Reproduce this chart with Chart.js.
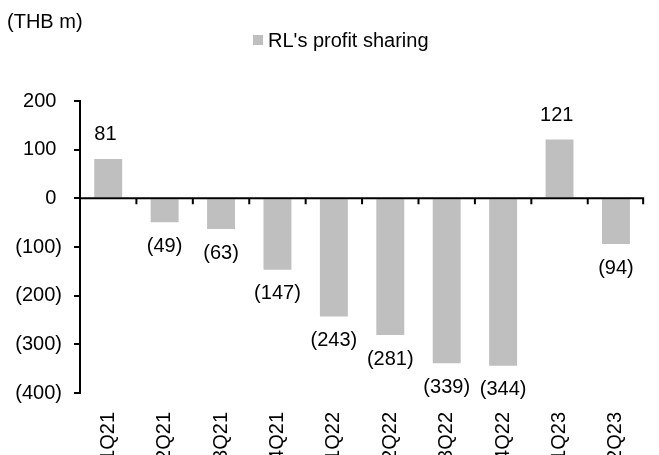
<!DOCTYPE html>
<html>
<head>
<meta charset="utf-8">
<script src="https://cdn.jsdelivr.net/npm/chart.js@4.4.0/dist/chart.umd.min.js"></script>
<style>
  html, body { margin: 0; padding: 0; background: #fff; }
</style>
</head>
<body>
<canvas id="profitChart" width="659" height="455"></canvas>
<script>
// data
const quarters = ['1Q21', '2Q21', '3Q21', '4Q21', '1Q22', '2Q22', '3Q22', '4Q22', '1Q23', '2Q23'];
const profitSharing = [81, -49, -63, -147, -243, -281, -339, -344, 121, -94];
const yTicks = [200, 100, 0, -100, -200, -300, -400];
const seriesName = "RL's profit sharing";
const unitLabel = '(THB m)';

const FONT = "'Liberation Sans', Arial, sans-serif";
const FONT_SIZE = 20;
const BAR_GREY = '#bfbfbf';

// accounting style: negatives in brackets, positives padded like Excel does
function fmt(v) {
    return v < 0 ? '(' + Math.abs(v) + ')' : v + '\u2008';
}

Chart.defaults.font.family = FONT;
Chart.defaults.font.size = FONT_SIZE;
Chart.defaults.color = '#000';

// zero line with category tick marks, plus the value labels
const zeroAxisAndLabels = {
    id: 'zeroAxisAndLabels',
    afterDatasetsDraw(chart) {
        const { ctx, chartArea, scales: { x, y } } = chart;
        const y0 = y.getPixelForValue(0);
        ctx.save();
        ctx.strokeStyle = '#000';
        ctx.lineWidth = 2;
        ctx.beginPath();
        ctx.moveTo(chartArea.left, y0);
        ctx.lineTo(chartArea.right, y0);
        for (let i = 1; i <= quarters.length; i++) {
            const bx = i < quarters.length
                ? (x.getPixelForValue(i - 1) + x.getPixelForValue(i)) / 2
                : chartArea.right - 1;
            ctx.moveTo(bx, y0);
            ctx.lineTo(bx, y0 + 6);
        }
        ctx.stroke();

        ctx.fillStyle = '#000';
        ctx.font = FONT_SIZE + 'px ' + FONT;
        ctx.textAlign = 'center';
        ctx.textBaseline = 'middle';
        chart.getDatasetMeta(0).data.forEach((bar, i) => {
            const v = profitSharing[i];
            ctx.fillText(fmt(v), bar.x, v >= 0 ? bar.y - 24 : bar.y + 24);
        });
        ctx.restore();
    }
};

// unit caption top-left and the single legend entry
const header = {
    id: 'header',
    afterDraw(chart) {
        const ctx = chart.ctx;
        ctx.save();
        ctx.font = FONT_SIZE + 'px ' + FONT;
        ctx.fillStyle = '#000';
        ctx.textBaseline = 'middle';
        ctx.textAlign = 'left';
        ctx.fillText(unitLabel, 7, 22);

        ctx.fillStyle = BAR_GREY;
        ctx.fillRect(253, 35, 10, 10);
        ctx.fillStyle = '#000';
        ctx.fillText(seriesName, 268, 41);
        ctx.restore();
    }
};

new Chart(document.getElementById('profitChart'), {
    type: 'bar',
    data: {
        labels: quarters,
        datasets: [{
            label: seriesName,
            data: profitSharing,
            backgroundColor: BAR_GREY,
            borderWidth: 0,
            barPercentage: 0.495,
            categoryPercentage: 1
        }]
    },
    options: {
        responsive: false,
        animation: false,
        devicePixelRatio: 1,
        layout: { padding: { top: 101, left: 0, right: 1, bottom: 0 } },
        plugins: {
            legend: { display: false },
            title: { display: false },
            tooltip: { enabled: false }
        },
        scales: {
            x: {
                grid: { display: false, drawTicks: false },
                border: { display: false },
                ticks: {
                    autoSkip: false,
                    minRotation: 90,
                    maxRotation: 90,
                    padding: 19,
                    color: '#000'
                },
                afterFit: s => { s.height = 62; }
            },
            y: {
                min: yTicks[yTicks.length - 1],
                max: yTicks[0],
                afterBuildTicks: s => { s.ticks = yTicks.map(v => ({ value: v })); },
                grid: {
                    drawOnChartArea: false,
                    drawTicks: true,
                    tickLength: 6,
                    color: '#000',
                    lineWidth: 2
                },
                border: { display: true, color: '#000', width: 2 },
                ticks: {
                    padding: 12,
                    color: '#000',
                    callback: v => fmt(v)
                },
                afterFit: s => { s.width = 80; }
            }
        }
    },
    plugins: [zeroAxisAndLabels, header]
});
</script>
</body>
</html>
